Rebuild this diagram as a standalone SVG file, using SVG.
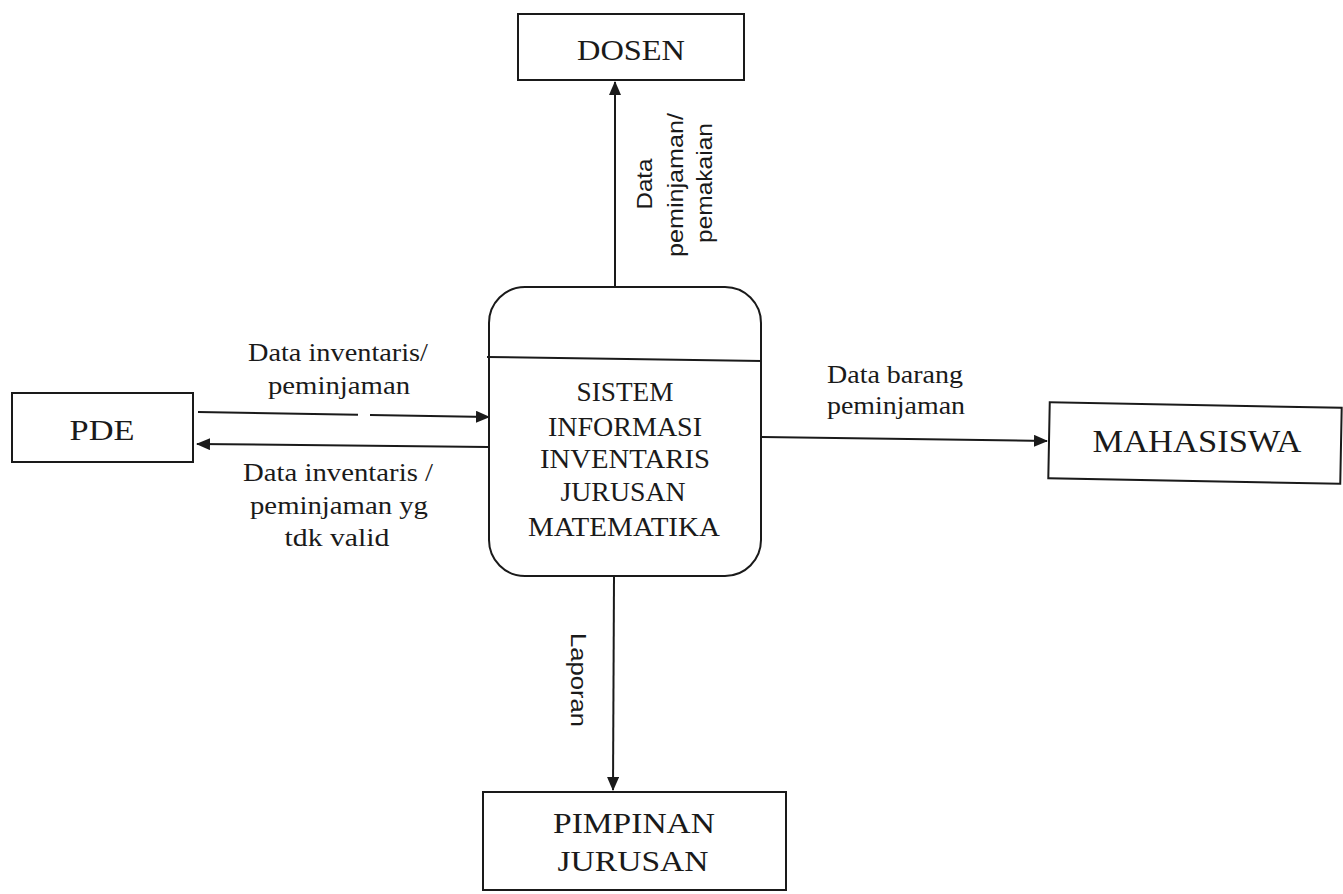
<svg xmlns="http://www.w3.org/2000/svg" width="1343" height="894" viewBox="0 0 1343 894">
<style>
.box{fill:#fff;stroke:#1a1a1a;stroke-width:2}
.ent{font-family:"Liberation Serif",serif;fill:#1a1a1a;text-anchor:middle}
.lbl{font-family:"Liberation Serif",serif;font-size:25px;fill:#1a1a1a;text-anchor:middle}
.rot{font-family:"Liberation Sans",sans-serif;font-size:22px;fill:#1a1a1a;text-anchor:middle}
.flow{fill:none;stroke:#1a1a1a;stroke-width:2}
</style>
<defs>
<marker id="arr" markerUnits="userSpaceOnUse" markerWidth="14" markerHeight="12" refX="13" refY="6" orient="auto">
<path d="M0,0 L14,6 L0,12 Z" fill="#1a1a1a"/>
</marker>
</defs>
<rect width="1343" height="894" fill="#fff"/>

<g id="connectors">
<path class="flow" d="M615,287 L615,82" marker-end="url(#arr)"/>
<path class="flow" d="M198,412 L358,414.7 M370,414.9 L489,417" marker-end="url(#arr)"/>
<path class="flow" d="M488,447 L197,444" marker-end="url(#arr)"/>
<path class="flow" d="M761,437 L1047,441" marker-end="url(#arr)"/>
<path class="flow" d="M614,577 L613,790" marker-end="url(#arr)"/>
</g>

<g id="labels">
<text class="rot" transform="translate(652,184) rotate(-90)" textLength="51" lengthAdjust="spacingAndGlyphs">Data</text>
<text class="rot" transform="translate(683,185) rotate(-90)" textLength="144" lengthAdjust="spacingAndGlyphs">peminjaman/</text>
<text class="rot" transform="translate(712,183) rotate(-90)" textLength="120" lengthAdjust="spacingAndGlyphs">pemakaian</text>
<text class="rot" transform="translate(571,680) rotate(90)" textLength="94" lengthAdjust="spacingAndGlyphs">Laporan</text>
<text class="lbl" x="338" y="361" textLength="180" lengthAdjust="spacingAndGlyphs">Data inventaris/</text>
<text class="lbl" x="339" y="394" textLength="142" lengthAdjust="spacingAndGlyphs">peminjaman</text>
<text class="lbl" x="338" y="481" textLength="190" lengthAdjust="spacingAndGlyphs">Data inventaris /</text>
<text class="lbl" x="339" y="514" textLength="178" lengthAdjust="spacingAndGlyphs">peminjaman yg</text>
<text class="lbl" x="337" y="546" textLength="105" lengthAdjust="spacingAndGlyphs">tdk valid</text>
<text class="lbl" x="895" y="383" textLength="136" lengthAdjust="spacingAndGlyphs">Data barang</text>
<text class="lbl" x="896" y="414" textLength="138" lengthAdjust="spacingAndGlyphs">peminjaman</text>
</g>

<g id="process">
<rect class="box" x="489" y="287" width="272" height="289" rx="36" ry="36"/>
<line x1="487" y1="357" x2="762" y2="361" stroke="#1a1a1a" stroke-width="2"/>
<text class="ent" font-size="27" x="625" y="401" textLength="97" lengthAdjust="spacingAndGlyphs">SISTEM</text>
<text class="ent" font-size="27" x="625" y="436" textLength="154" lengthAdjust="spacingAndGlyphs">INFORMASI</text>
<text class="ent" font-size="27" x="625" y="468" textLength="170" lengthAdjust="spacingAndGlyphs">INVENTARIS</text>
<text class="ent" font-size="27" x="623" y="501" textLength="125" lengthAdjust="spacingAndGlyphs">JURUSAN</text>
<text class="ent" font-size="27" x="624" y="536" textLength="192" lengthAdjust="spacingAndGlyphs">MATEMATIKA</text>
</g>

<g id="dosen">
<rect class="box" x="518" y="14" width="226" height="66"/>
<text class="ent" font-size="30" x="631" y="60" textLength="108" lengthAdjust="spacingAndGlyphs">DOSEN</text>
</g>

<g id="pde">
<rect class="box" x="12" y="393" width="181" height="69"/>
<text class="ent" font-size="30" x="102" y="440" textLength="65" lengthAdjust="spacingAndGlyphs">PDE</text>
</g>

<g id="mahasiswa">
<rect class="box" x="1049" y="405" width="292" height="76" transform="rotate(1.1 1195 443)"/>
<text class="ent" font-size="32" x="1197" y="452" textLength="209" lengthAdjust="spacingAndGlyphs">MAHASISWA</text>
</g>

<g id="pimpinan">
<rect class="box" x="483" y="792" width="303" height="98"/>
<text class="ent" font-size="30" x="634" y="833" textLength="162" lengthAdjust="spacingAndGlyphs">PIMPINAN</text>
<text class="ent" font-size="30" x="633" y="871" textLength="151" lengthAdjust="spacingAndGlyphs">JURUSAN</text>
</g>
</svg>
